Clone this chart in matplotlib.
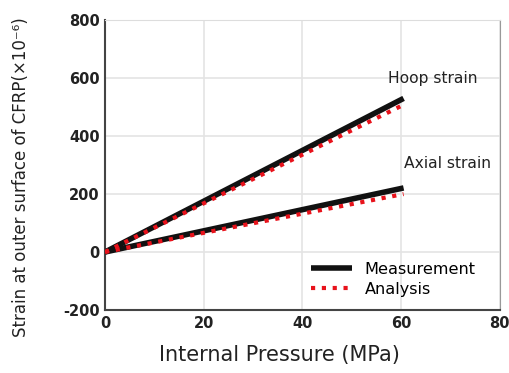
import numpy as np
import matplotlib.pyplot as plt

plt.rcParams['axes.unicode_minus'] = False

# data
pressure = [0, 60.5]
hoop_meas = [0, 530]
hoop_anal = [0, 508]
axial_meas = [0, 221]
axial_anal = [0, 200]

x_ticks = [0, 20, 40, 60, 80]
y_ticks = [-200, 0, 200, 400, 600, 800]

fig = plt.figure(figsize=(5.10, 3.73), dpi=100)
ax = fig.add_axes([0.206, 0.169, 0.774, 0.777])

# measurement lines (solid black)
ax.plot(pressure, hoop_meas, color='#111111', linewidth=4, solid_capstyle='butt',
        label='Measurement', zorder=3)
ax.plot(pressure, axial_meas, color='#111111', linewidth=4, solid_capstyle='butt', zorder=3)

# analysis lines (red dotted)
ax.plot(pressure, hoop_anal, color='#e8121b', linewidth=3, linestyle=(0, (1, 1.6)),
        label='Analysis', zorder=4)
ax.plot(pressure, axial_anal, color='#e8121b', linewidth=3, linestyle=(0, (1, 1.6)), zorder=4)

ax.text(66.5, 600, 'Hoop strain', ha='center', va='center', fontsize=11.2, color='#222222')
ax.text(69.5, 305, 'Axial strain', ha='center', va='center', fontsize=11.2, color='#222222')

ax.set_xlim(0, 80)
ax.set_ylim(-200, 800)
ax.set_xticks(x_ticks)
ax.set_yticks(y_ticks)
ax.tick_params(length=0, labelsize=10.5, colors='#222222', pad=4)
for lab in ax.get_xticklabels() + ax.get_yticklabels():
    lab.set_fontweight('bold')

ax.grid(True, color='#e4e4e4', linewidth=1.2)
ax.set_axisbelow(True)
ax.spines['left'].set_color('#444444')
ax.spines['bottom'].set_color('#444444')
ax.spines['left'].set_linewidth(1.5)
ax.spines['bottom'].set_linewidth(1.5)
ax.spines['top'].set_color('#dddddd')
ax.spines['right'].set_color('#999999')

ax.set_xlabel('Internal Pressure (MPa)', fontsize=15, color='#222222')
ax.set_ylabel('Strain at outer surface of CFRP(×10⁻⁶)', fontsize=12, color='#222222')
ax.xaxis.set_label_coords(0.443, -0.12)
ax.yaxis.set_label_coords(-0.19, 0.46)

ax.legend(loc='lower right', frameon=False, fontsize=11.6, handlelength=2.5,
          bbox_to_anchor=(0.975, -0.005), labelspacing=0.3)

fig.savefig('out.png', dpi=100)
